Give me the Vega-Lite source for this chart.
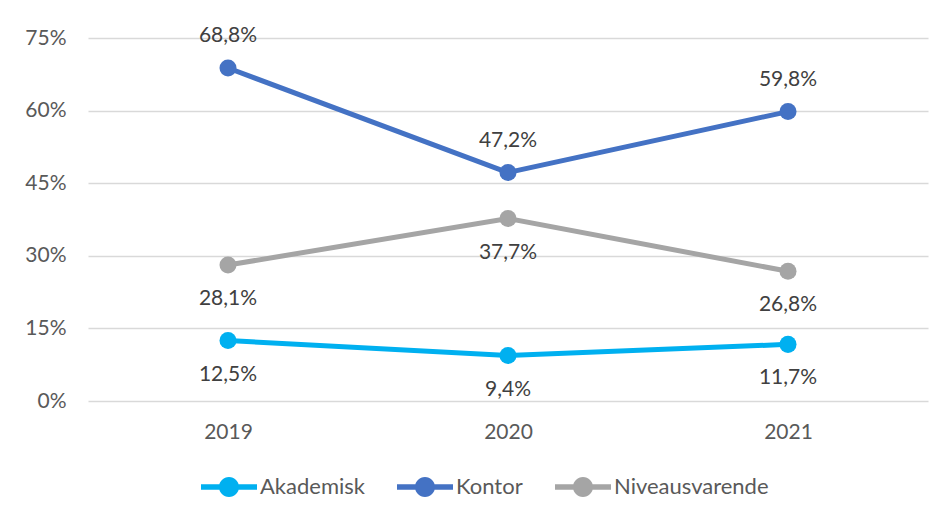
{
  "$schema": "https://vega.github.io/schema/vega-lite/v6.json",
  "width": 840,
  "height": 363,
  "autosize": {"type": "none"},
  "padding": {"left": 88, "top": 38, "right": 16, "bottom": 114},
  "background": "white",
  "config": {
    "view": {"stroke": null},
    "font": "Lato",
    "locale": {"number": {"decimal": ",", "thousands": ".", "grouping": [3], "currency": ["", " kr."]}}
  },
  "data": {
    "values": [
      {"year": "2019", "series": "Akademisk", "value": 0.125},
      {"year": "2020", "series": "Akademisk", "value": 0.094},
      {"year": "2021", "series": "Akademisk", "value": 0.117},
      {"year": "2019", "series": "Kontor", "value": 0.688},
      {"year": "2020", "series": "Kontor", "value": 0.472},
      {"year": "2021", "series": "Kontor", "value": 0.598},
      {"year": "2019", "series": "Niveausvarende", "value": 0.281},
      {"year": "2020", "series": "Niveausvarende", "value": 0.377},
      {"year": "2021", "series": "Niveausvarende", "value": 0.268}
    ]
  },
  "encoding": {
    "x": {
      "field": "year", "type": "ordinal",
      "scale": {"type": "point", "padding": 0.5},
      "axis": {"title": null, "labelAngle": 0, "ticks": false, "domain": false, "grid": false,
        "labelFont": "Lato", "labelFontSize": 21, "labelColor": "#595959", "labelPadding": 20}
    },
    "y": {
      "field": "value", "type": "quantitative",
      "scale": {"domain": [0, 0.75], "nice": false},
      "axis": {"title": null, "values": [0, 0.15, 0.3, 0.45, 0.6, 0.75], "format": ".0%",
        "ticks": false, "domain": false, "grid": true, "gridColor": "#d9d9d9", "gridWidth": 1.5,
        "labelFont": "Lato", "labelFontSize": 21, "labelColor": "#595959", "labelPadding": 22}
    },
    "color": {
      "field": "series", "type": "nominal",
      "scale": {"domain": ["Akademisk", "Kontor", "Niveausvarende"], "range": ["#00B0F0", "#4472C4", "#A5A5A5"]},
      "legend": {
        "title": null, "orient": "none", "direction": "horizontal", "legendX": 113, "legendY": 421,
        "symbolType": "M-1,-0.1H1V0.1H-1Z M-0.357,0A0.357,0.357 0 1,1 0.357,0A0.357,0.357 0 1,1 -0.357,0Z",
        "symbolSize": 3136, "symbolStrokeWidth": 0, "labelOffset": 3, "columnPadding": 32,
        "labelFont": "Lato", "labelFontSize": 22, "labelColor": "#595959",
        "encode": {"symbols": {"update": {"fill": {"scale": "color", "field": "value"}, "stroke": {"value": "transparent"}, "opacity": {"value": 1}}}}
      }
    }
  },
  "layer": [
    {"mark": {"type": "line", "strokeWidth": 5}},
    {"mark": {"type": "point", "filled": true, "size": 290, "opacity": 1, "shape": "circle"}},
    {
      "transform": [{"filter": "datum.series === 'Kontor'"}],
      "mark": {"type": "text", "dy": -32, "fontSize": 21, "font": "Lato", "color": "#404040", "baseline": "middle"},
      "encoding": {"text": {"field": "value", "type": "quantitative", "format": ".1%"}, "color": {"value": "#404040"}}
    },
    {
      "transform": [{"filter": "datum.series !== 'Kontor'"}],
      "mark": {"type": "text", "dy": 34, "fontSize": 21, "font": "Lato", "color": "#404040", "baseline": "middle"},
      "encoding": {"text": {"field": "value", "type": "quantitative", "format": ".1%"}, "color": {"value": "#404040"}}
    }
  ]
}
